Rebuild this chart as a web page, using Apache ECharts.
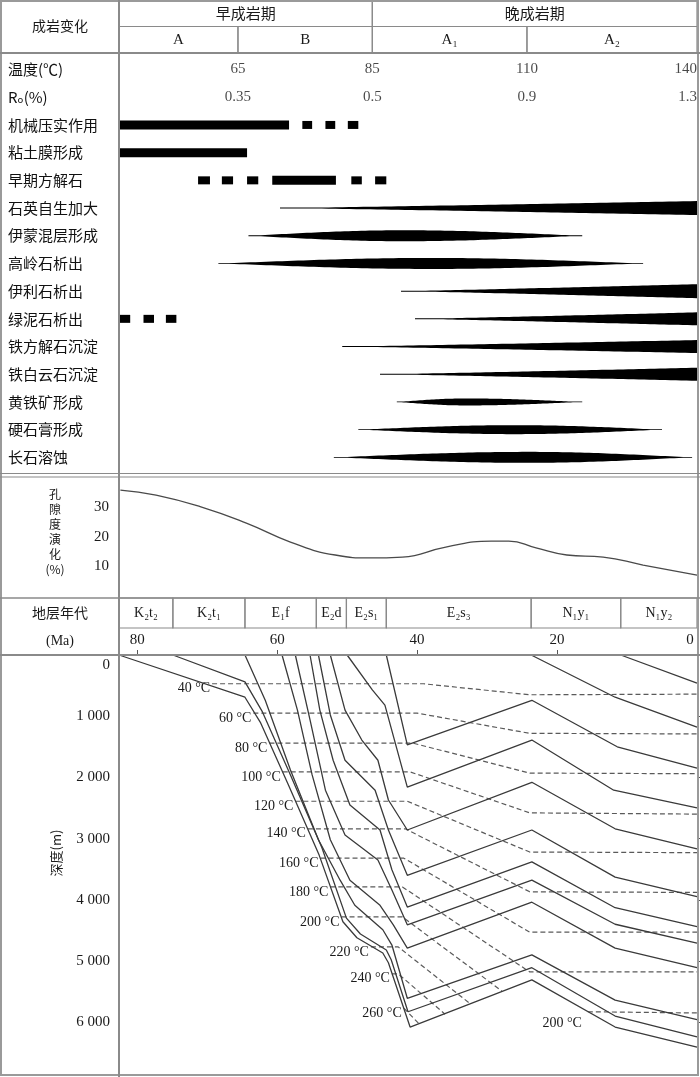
<!DOCTYPE html>
<html>
<head>
<meta charset="utf-8">
<script src="https://cdn.jsdelivr.net/npm/echarts@6/dist/echarts.min.js"></script>
<style>
  html, body { margin: 0; padding: 0; background: #fff; }
  #chart { width: 700px; height: 1077px; }
</style>
</head>
<body>
<div id="chart"></div>
<script>
const CJK = '"Noto Sans CJK SC", "DejaVu Sans", sans-serif';
const SERIF = '"Liberation Serif", "DejaVu Serif", serif';
const MA_MAX = 82.6;

// 成岩阶段 (Ma)
const periods = [['早成岩期', 82.6, 46.4], ['晚成岩期', 46.4, 0]];
const stages = [['A', 82.6, 65.6], ['B', 65.6, 46.4], ['A₁', 46.4, 24.3], ['A₂', 24.3, 0]];
const stageBounds = [65.6, 46.4, 24.3, 0];
const tempLabels = ['65', '85', '110', '140'];
const roLabels = ['0.35', '0.5', '0.9', '1.3'];

const eventNames = ['机械压实作用', '粘土膜形成', '早期方解石', '石英自生加大', '伊蒙混层形成',
  '高岭石析出', '伊利石析出', '绿泥石析出', '铁方解石沉淀', '铁白云石沉淀', '黄铁矿形成',
  '硬石膏形成', '长石溶蚀'];
const rowLabels = ['温度(℃)', 'Rₒ(%)'].concat(eventNames);

// [事件, 开始Ma, 结束Ma]
const solidBars = [['机械压实作用', 82.6, 58.3], ['粘土膜形成', 82.6, 64.3], ['早期方解石', 60.7, 51.6]];
const dashMarks = [
  ['机械压实作用', 56.4, 55.0], ['机械压实作用', 53.1, 51.7], ['机械压实作用', 49.9, 48.4],
  ['早期方解石', 71.3, 69.6], ['早期方解石', 67.9, 66.3], ['早期方解石', 64.3, 62.7],
  ['早期方解石', 49.4, 47.9], ['早期方解石', 46.0, 44.4],
  ['绿泥石析出', 82.6, 81.0], ['绿泥石析出', 79.1, 77.6], ['绿泥石析出', 75.9, 74.4]
];
// [事件, 开始, 最强, 结束]
const lenses = [
  ['伊蒙混层形成', 64.1, 42, 16.4], ['高岭石析出', 68.4, 38, 7.7], ['黄铁矿形成', 42.9, 33, 16.4],
  ['硬石膏形成', 48.4, 26, 5.0], ['长石溶蚀', 51.9, 24, 0.7]
];
const wedges = [
  ['石英自生加大', 59.6, 0], ['伊利石析出', 42.3, 0], ['绿泥石析出', 40.3, 0],
  ['铁方解石沉淀', 50.7, 0], ['铁白云石沉淀', 45.3, 0]
];
const lensThick = { '伊蒙混层形成': 11, '高岭石析出': 11, '黄铁矿形成': 7, '硬石膏形成': 9, '长石溶蚀': 11 };
const wedgeThick = { '石英自生加大': 14, '伊利石析出': 14, '绿泥石析出': 13, '铁方解石沉淀': 13, '铁白云石沉淀': 13 };

// 孔隙度演化 [Ma, %]
const porosity = [[82.4, 35.9], [77.3, 34.2], [70.9, 30.2], [64.4, 24.7], [58.1, 18.3], [51.7, 13.9],
  [46.7, 12.9], [42.1, 13.2], [35.9, 16.6], [29.4, 18.6], [26.9, 18.6], [23.0, 16.3], [18.6, 13.9],
  [13.4, 13.2], [7.7, 10.5], [0, 7.1]];

// 地层
const units = [['K₂t₂', 82.6, 74.9], ['K₂t₁', 74.9, 64.6], ['E₁f', 64.6, 54.4], ['E₂d', 54.4, 50.1],
  ['E₂s₁', 50.1, 44.4], ['E₂s₃', 44.4, 23.7], ['N₁y₁', 23.7, 10.9], ['N₁y₂', 10.9, 0]];

// 埋藏史 [Ma, 深度m]
const burialCurves = [
  [[10.9, 0], [0, 460]],
  [[23.7, 0], [11.7, 690], [0, 1180]],
  [[44.4, 0], [41.4, 1470], [23.6, 740], [11.4, 1500], [0, 1850]],
  [[50.0, 0], [46.4, 570], [44.6, 820], [41.4, 2160], [23.6, 1390], [11.9, 2210], [0, 2500]],
  [[52.4, 0], [50.3, 900], [47.9, 1390], [45.6, 1720], [44.1, 2370], [41.4, 2860], [23.6, 2080], [11.7, 2840], [0, 3170]],
  [[54.1, 0], [52.4, 980], [50.3, 1720], [46.0, 2210], [44.1, 2860], [41.4, 3600], [23.6, 2860], [11.7, 3630], [0, 3950]],
  [[55.3, 0], [53.9, 900], [52.0, 1720], [49.6, 2450], [45.3, 2860], [43.6, 3510], [41.4, 4120], [23.6, 3380], [11.7, 4130], [0, 4440]],
  [[57.4, 0], [55.3, 1060], [53.1, 2210], [50.3, 2940], [45.6, 3350], [43.6, 3840], [41.4, 4410], [23.6, 3680], [11.7, 4400], [0, 4710]],
  [[59.3, 0], [57.1, 900], [55.0, 1960], [52.4, 3020], [49.6, 3680], [45.3, 4090], [43.4, 4410], [41.4, 4790], [23.6, 4040], [11.7, 4790], [0, 5110]],
  [[64.6, 0], [61.7, 740], [58.1, 1880], [54.1, 3020], [51.0, 3680], [48.9, 4090], [44.9, 4490], [43.6, 4740], [41.4, 5610], [23.6, 4900], [11.7, 5640], [0, 5960]],
  [[74.9, 0], [64.6, 440], [62.1, 930], [58.1, 1960], [53.6, 3150], [50.1, 4300], [48.1, 4560], [44.4, 4820], [43.7, 4980], [41.3, 5830], [23.6, 5110], [11.7, 5900], [0, 6240]],
  [[82.6, 0], [64.6, 690], [62.4, 1100], [58.4, 2120], [54.0, 3270], [50.6, 4360], [48.6, 4620], [44.9, 4870], [44.1, 5030], [41.0, 6080], [23.6, 5310], [11.7, 6080], [0, 6410]]
];

// 古地温 [温度, 点]
const isotherms = [
  ['40 °C', [[69.3, 470], [39.1, 470], [23.9, 650], [0, 640]]],
  ['60 °C', [[63.4, 950], [40.0, 950], [23.9, 1280], [0, 1290]]],
  ['80 °C', [[61.1, 1440], [40.6, 1440], [23.9, 1930], [0, 1940]]],
  ['100 °C', [[59.2, 1910], [41.0, 1910], [23.9, 2580], [0, 2600]]],
  ['120 °C', [[57.4, 2390], [41.4, 2390], [23.9, 3220], [0, 3230]]],
  ['140 °C', [[55.6, 2840], [41.7, 2840], [23.9, 3870], [0, 3880]]],
  ['160 °C', [[53.8, 3320], [41.9, 3320], [23.9, 4530], [0, 4530]]],
  ['180 °C', [[52.4, 3790], [42.1, 3790], [23.9, 5180], [0, 5180]]],
  ['200 °C', [[50.8, 4280], [42.1, 4280], [27.9, 5490]]],
  ['220 °C', [[46.6, 4770], [42.7, 4770], [32.4, 5700]]],
  ['240 °C', [[43.6, 5210], [42.7, 5210], [36.0, 5870]]],
  ['260 °C', [[41.9, 5770], [39.7, 6030]]]
];
const isotherm200Right = [[15.6, 5830], [0, 5850]];

const chart = echarts.init(document.getElementById('chart'), null, { renderer: 'canvas' });

const rowOf = (name) => rowLabels.indexOf(name);

function cellRender(list, fontFor) {
  return function (params, api) {
    const row = api.value(0);
    const p0 = api.coord([api.value(1), row]);
    const p1 = api.coord([api.value(2), row]);
    const h = api.size([0, 1])[1];
    const x = Math.min(p0[0], p1[0]);
    const w = Math.abs(p1[0] - p0[0]);
    return {
      type: 'group',
      children: [
        { type: 'rect', shape: { x: x, y: p0[1] - h / 2, width: w, height: h },
          style: { fill: 'none', stroke: '#8a8a8a', lineWidth: 1.2 } },
        { type: 'text', style: { text: list[params.dataIndex][0], x: x + w / 2, y: p0[1],
          align: 'center', verticalAlign: 'middle', font: fontFor(params.dataIndex), fill: '#1a1a1a' } }
      ]
    };
  };
}

function barRender(h) {
  return function (params, api) {
    const a = api.coord([api.value(1), api.value(0)]);
    const b = api.coord([api.value(2), api.value(0)]);
    return { type: 'rect', shape: { x: Math.min(a[0], b[0]), y: a[1] - h / 2, width: Math.abs(b[0] - a[0]), height: h },
      style: { fill: '#000' } };
  };
}

function lensRender(params, api) {
  const H = lensThick[lenses[params.dataIndex][0]] / 2;
  const c = api.coord([api.value(1), api.value(0)]);
  const xp = api.coord([api.value(2), api.value(0)])[0];
  const x1 = api.coord([api.value(3), api.value(0)])[0];
  const x0 = c[0], yc = c[1];
  const top = [], bot = [];
  const N = 80;
  for (let i = 0; i <= N; i++) {
    const x = x0 + (x1 - x0) * i / N;
    const s = x <= xp ? (x - x0) / (xp - x0) : (x1 - x) / (x1 - xp);
    const h = Math.max(0.4, H * Math.pow(Math.sin(s * Math.PI / 2), 1.1));
    top.push([x, yc - h]);
    bot.unshift([x, yc + h]);
  }
  return { type: 'polygon', shape: { points: top.concat(bot) }, style: { fill: '#000' } };
}

function wedgeRender(params, api) {
  const H = wedgeThick[wedges[params.dataIndex][0]] / 2;
  const c = api.coord([api.value(1), api.value(0)]);
  const x1 = api.coord([api.value(2), api.value(0)])[0];
  const x0 = c[0], yc = c[1];
  const top = [], bot = [];
  const N = 60;
  for (let i = 0; i <= N; i++) {
    const x = x0 + (x1 - x0) * i / N;
    const h = Math.max(0.5, H * Math.pow(i / N, 1.1));
    top.push([x, yc - h]);
    bot.unshift([x, yc + h]);
  }
  return { type: 'polygon', shape: { points: top.concat(bot) }, style: { fill: '#000' } };
}

const L = 119, R = 3;
const grids = [
  { left: L, right: R, top: 0, height: 53 },
  { left: L, right: R, top: 55.7, height: 415.5 },
  { left: L, right: R, top: 478, height: 118 },
  { left: L, right: R, top: 598, height: 30 },
  { left: L, right: R, top: 655, height: 421 }
];
const hiddenX = (i) => ({ gridIndex: i, type: 'value', min: 0, max: MA_MAX, inverse: true, show: false });

const series = [];

// 表头
series.push({
  type: 'custom', xAxisIndex: 0, yAxisIndex: 0,
  renderItem: cellRender(periods.concat(stages), i => i < periods.length ? '15px ' + CJK : '15px ' + SERIF),
  encode: { x: [1, 2], y: 0 },
  data: periods.map(p => [0, p[1], p[2]]).concat(stages.map(s => [1, s[1], s[2]]))
});

// 温度 / Ro
series.push({
  type: 'scatter', xAxisIndex: 1, yAxisIndex: 1, symbolSize: 0, silent: true,
  label: { show: true, position: 'inside', color: '#1a1a1a', fontFamily: SERIF, fontSize: 15 },
  data: stageBounds.map((b, i) => ({ value: [b, 0], label: { formatter: tempLabels[i], align: i === 3 ? 'right' : 'center' } }))
    .concat(stageBounds.map((b, i) => ({ value: [b, 1], label: { formatter: roLabels[i], align: i === 3 ? 'right' : 'center' } })))
});

// 成岩事件
series.push({ type: 'custom', xAxisIndex: 1, yAxisIndex: 1, renderItem: barRender(9),
  encode: { x: [1, 2], y: 0 }, data: solidBars.map(d => [rowOf(d[0]), d[1], d[2]]) });
series.push({ type: 'custom', xAxisIndex: 1, yAxisIndex: 1, renderItem: barRender(8),
  encode: { x: [1, 2], y: 0 }, data: dashMarks.map(d => [rowOf(d[0]), d[1], d[2]]) });
series.push({ type: 'custom', xAxisIndex: 1, yAxisIndex: 1, renderItem: lensRender,
  encode: { x: [1, 2, 3], y: 0 }, data: lenses.map(d => [rowOf(d[0]), d[1], d[2], d[3]]) });
series.push({ type: 'custom', xAxisIndex: 1, yAxisIndex: 1, renderItem: wedgeRender,
  encode: { x: [1, 2], y: 0 }, data: wedges.map(d => [rowOf(d[0]), d[1], d[2]]) });

// 孔隙度
series.push({ type: 'line', xAxisIndex: 2, yAxisIndex: 2, smooth: 0.5, showSymbol: false,
  lineStyle: { color: '#4a4a4a', width: 1.3 }, data: porosity });

// 地层年代
series.push({
  type: 'custom', xAxisIndex: 3, yAxisIndex: 3,
  renderItem: cellRender(units, () => '14px ' + SERIF),
  encode: { x: [1, 2], y: 0 },
  data: units.map(u => [0, u[1], u[2]])
});

// 埋藏曲线
burialCurves.forEach(c => {
  series.push({ type: 'line', xAxisIndex: 4, yAxisIndex: 4, showSymbol: false, silent: true,
    lineStyle: { color: '#3a3a3a', width: 1.3 }, data: c, z: 3 });
});

// 等温线
const isoLabel = (text) => ({ show: true, formatter: text, position: 'left', distance: 2, offset: [0, 5],
  color: '#1a1a1a', fontFamily: SERIF, fontSize: 14 });
isotherms.forEach(([name, pts]) => {
  series.push({ type: 'line', xAxisIndex: 4, yAxisIndex: 4, symbol: 'circle', symbolSize: 0, silent: true,
    lineStyle: { color: '#5a5a5a', width: 1.2, type: [5, 3] }, z: 2,
    data: pts.map((p, i) => i === 0 ? { value: p, label: isoLabel(name) } : p) });
});
series.push({ type: 'line', xAxisIndex: 4, yAxisIndex: 4, symbol: 'circle', symbolSize: 0, silent: true,
  lineStyle: { color: '#5a5a5a', width: 1.2, type: [5, 3] }, z: 2,
  data: isotherm200Right.map((p, i) => i === 0 ? { value: p, label: Object.assign(isoLabel('200 °C'), { offset: [-4, 12] }) } : p) });

const hline = (x1, y, x2, w, c) => ({ type: 'line', shape: { x1: x1, y1: y, x2: x2, y2: y },
  style: { stroke: c || '#8a8a8a', lineWidth: w || 1.5 }, z: 10 });
const txt = (text, x, y, font, extra) => Object.assign({ type: 'text', x: x, y: y, z: 10,
  style: { text: text, align: 'center', verticalAlign: 'middle', font: font, fill: '#1a1a1a', lineHeight: 15 } }, extra || {});

const option = {
  animation: false,
  backgroundColor: '#fff',
  grid: grids,
  xAxis: [
    hiddenX(0), hiddenX(1), hiddenX(2), hiddenX(3),
    { gridIndex: 4, type: 'value', position: 'top', min: 0, max: MA_MAX, inverse: true, interval: 20,
      axisLine: { show: false }, splitLine: { show: false },
      axisTick: { show: true, length: 5, lineStyle: { color: '#555' } },
      axisLabel: { margin: 7, color: '#1a1a1a', fontFamily: SERIF, fontSize: 15, showMaxLabel: false,
        formatter: v => v === 0 ? '{r|0}' : String(v),
        rich: { r: { padding: [0, 14, 0, 0], fontFamily: SERIF, fontSize: 15, color: '#1a1a1a' } } } }
  ],
  yAxis: [
    { gridIndex: 0, type: 'category', data: ['period', 'stage'], inverse: true, show: false },
    { gridIndex: 1, type: 'category', data: rowLabels, inverse: true,
      axisLine: { show: false }, axisTick: { show: false },
      axisLabel: { align: 'left', margin: 111, color: '#111', fontFamily: CJK, fontSize: 15 } },
    { gridIndex: 2, type: 'value', min: 0, max: 40, interval: 10,
      axisLine: { show: false }, axisTick: { show: false }, splitLine: { show: false },
      axisLabel: { margin: 10, color: '#1a1a1a', fontFamily: SERIF, fontSize: 15, showMinLabel: false, showMaxLabel: false } },
    { gridIndex: 3, type: 'category', data: ['unit'], show: false },
    { gridIndex: 4, type: 'value', min: 0, max: 6880, interval: 1000, inverse: true,
      axisLine: { show: false }, splitLine: { show: false },
      axisTick: { show: true, inside: true, length: 5, lineStyle: { color: '#555' } },
      axisLabel: { margin: 9, color: '#1a1a1a', fontFamily: SERIF, fontSize: 15, showMaxLabel: false,
        formatter: v => v === 0 ? '{z|0}' : (v / 1000) + ' 000',
        rich: { z: { padding: [20, 0, 0, 0], fontFamily: SERIF, fontSize: 15, color: '#1a1a1a' } } } }
  ],
  series: series,
  graphic: [
    { type: 'rect', z: 10, shape: { x: 1, y: 1, width: 697, height: 1074 },
      style: { fill: null, stroke: '#9a9a9a', lineWidth: 2 } },
    { type: 'line', z: 10, shape: { x1: 119, y1: 0, x2: 119, y2: 1077 }, style: { stroke: '#8a8a8a', lineWidth: 2 } },
    hline(0, 53, 700, 2),
    hline(0, 473.5, 700, 1.2),
    hline(0, 477, 700, 1.2),
    hline(0, 598, 700, 1.5),
    hline(0, 655, 700, 2),
    txt('成岩变化', 60, 26, '14px ' + CJK),
    txt('孔\n隙\n度\n演\n化\n(%)', 55, 532, '12px ' + CJK),
    txt('地层年代', 60, 613, '14px ' + CJK),
    txt('(Ma)', 60, 641, '14px ' + SERIF),
    txt('深度(m)', 56, 853, '13px ' + CJK, { rotation: Math.PI / 2 })
  ]
};

chart.setOption(option);
</script>
</body>
</html>
